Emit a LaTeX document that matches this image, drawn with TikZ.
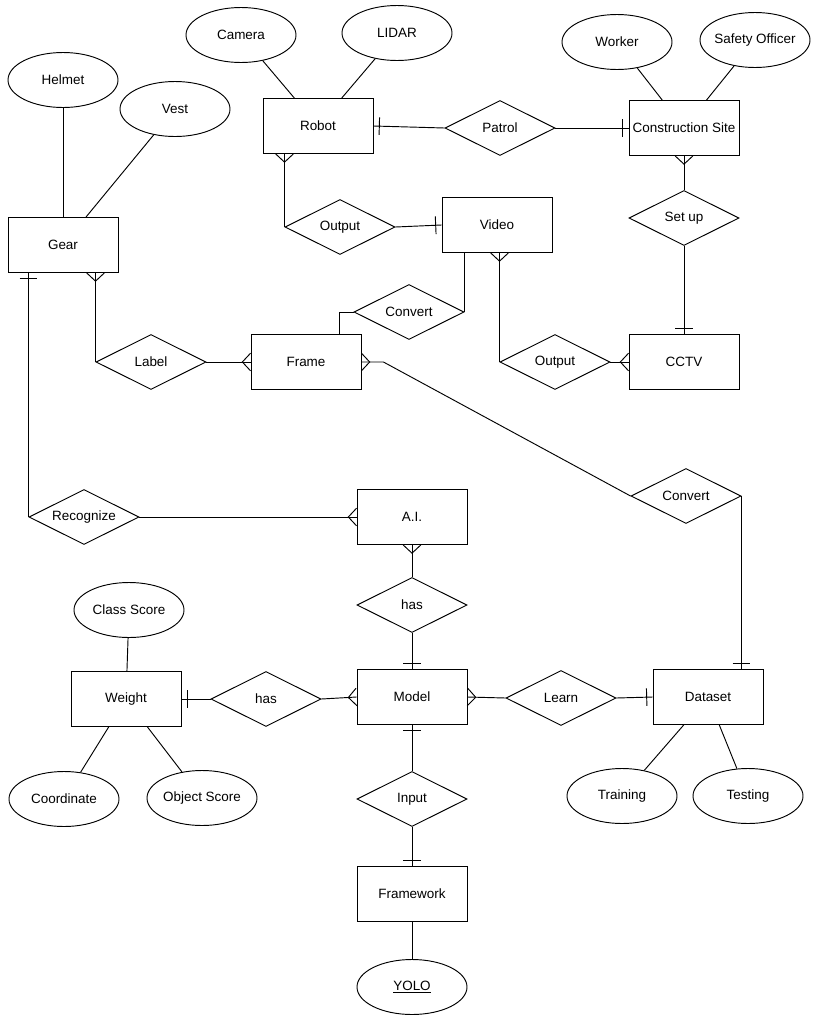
\documentclass[tikz,border=0pt]{standalone}
\usepackage{fontspec}
\setmainfont{Liberation Sans}
\usetikzlibrary{shapes.geometric,decorations.markings}
\tikzset{
	ent/.style={draw, rectangle, minimum width=3.3cm, minimum height=1.65cm, inner sep=2pt},
	rel/.style={draw, diamond, aspect=2, minimum width=3.3cm, minimum height=1.65cm, inner sep=0pt},
	attr/.style={draw, ellipse, minimum width=3.3cm, minimum height=1.65cm, inner xsep=-3pt},
	one end/.style={postaction={decorate, decoration={markings, mark=at position 1 with {\draw (-5pt,-7.5pt)--(-5pt,7.5pt);}}}},
	one start/.style={postaction={decorate, decoration={markings, mark=at position 0 with {\draw (5pt,-7.5pt)--(5pt,7.5pt);}}}},
	many end/.style={postaction={decorate, decoration={markings, mark=at position 1 with {\draw (0,-7.5pt)--(-7pt,0)--(0,7.5pt);}}}},
	many start/.style={postaction={decorate, decoration={markings, mark=at position 0 with {\draw (0,-7.5pt)--(7pt,0)--(0,7.5pt);}}}}
}
\begin{document}
\begin{tikzpicture}[x=0.03cm, y=-0.03cm, line width=0.8pt, font=\fontsize{11.5}{13.5}\selectfont]
	\useasboundingbox (0,0) rectangle (818,1024);
	\node[ent] (robot) at (318,126) {Robot};
	\node[ent] (site) at (684,128) {Construction Site};
	\node[ent] (gear) at (63,245) {Gear};
	\node[ent] (video) at (497,225) {Video};
	\node[ent] (frame) at (306,362) {Frame};
	\node[ent] (cctv) at (684,362) {CCTV};
	\node[ent] (ai) at (412,517) {A.I.};
	\node[ent] (model) at (412,697) {Model};
	\node[ent] (weight) at (126,699) {Weight};
	\node[ent] (dataset) at (708,697) {Dataset};
	\node[ent] (framework) at (412,894) {Framework};
	\node[rel] (patrol) at (500,128) {Patrol};
	\node[rel] (outrobot) at (340,227) {Output};
	\node[rel] (setup) at (684,218) {Set up};
	\node[rel] (convvideo) at (409,312) {Convert};
	\node[rel] (label) at (151,362) {Label};
	\node[rel] (outcctv) at (555,362) {Output};
	\node[rel] (convdata) at (686,496) {Convert};
	\node[rel] (recognize) at (84,517) {Recognize};
	\node[rel] (hasai) at (412,605) {has};
	\node[rel] (hasweight) at (266,699) {has};
	\node[rel] (learn) at (561,698) {Learn};
	\node[rel] (input) at (412,799) {Input};
	\node[attr] (camera) at (241,35) {Camera};
	\node[attr] (lidar) at (397,33) {LIDAR};
	\node[attr] (worker) at (617,42) {Worker};
	\node[attr] (officer) at (755,40) {Safety Officer};
	\node[attr] (helmet) at (63,80) {Helmet};
	\node[attr] (vest) at (175,109) {Vest};
	\node[attr] (classscore) at (129,610) {Class Score};
	\node[attr] (coordinate) at (64,799) {Coordinate};
	\node[attr] (objscore) at (202,798) {Object Score};
	\node[attr] (training) at (622,796) {Training};
	\node[attr] (testing) at (748,796) {Testing};
	\node[attr] (yolo) at (412,987) {\underline{YOLO}};
	\draw (camera) -- (robot);
	\draw (lidar) -- (robot);
	\draw (worker) -- (site);
	\draw (officer) -- (site);
	\draw (helmet) -- (gear);
	\draw (vest) -- (gear);
	\draw (classscore) -- (weight);
	\draw (coordinate) -- (weight);
	\draw (objscore) -- (weight);
	\draw (training) -- (dataset);
	\draw (testing) -- (dataset);
	\draw (yolo) -- (framework);
	\draw[one start] (robot.east) -- (patrol.west);
	\draw[one end] (patrol.east) -- (site.west);
	\draw[many start] (robot.south -| outrobot.west) -- (outrobot.west);
	\draw[one end] (outrobot.east) -- (video.west);
	\draw[many start] (site.south) -- (setup.north);
	\draw[one end] (setup.south) -- (cctv.north);
	\draw (video.south -| convvideo.east) -- (convvideo.east);
	\draw (convvideo.west) -| ([xshift=1cm]frame.north);
	\draw[many start] (video.south -| outcctv.west) -- (outcctv.west);
	\draw[many end] (outcctv.east) -- (cctv.west);
	\draw[many start] (gear.south -| label.west) -- (label.west);
	\draw[many end] (label.east) -- (frame.west);
	\draw[many start] (frame.east) -- ++(22,0) -- (convdata.west);
	\draw[one end] (convdata.east) -- (convdata.east |- dataset.north);
	\draw[one start] (gear.south -| recognize.west) -- (recognize.west);
	\draw[many end] (recognize.east) -- (ai.west);
	\draw[many start] (ai.south) -- (hasai.north);
	\draw[one end] (hasai.south) -- (model.north);
	\draw[one start] (weight.east) -- (hasweight.west);
	\draw[many end] (hasweight.east) -- (model.west);
	\draw[many start] (model.east) -- (learn.west);
	\draw[one end] (learn.east) -- (dataset.west);
	\draw[one start] (model.south) -- (input.north);
	\draw[one end] (input.south) -- (framework.north);
\end{tikzpicture}
\end{document}
